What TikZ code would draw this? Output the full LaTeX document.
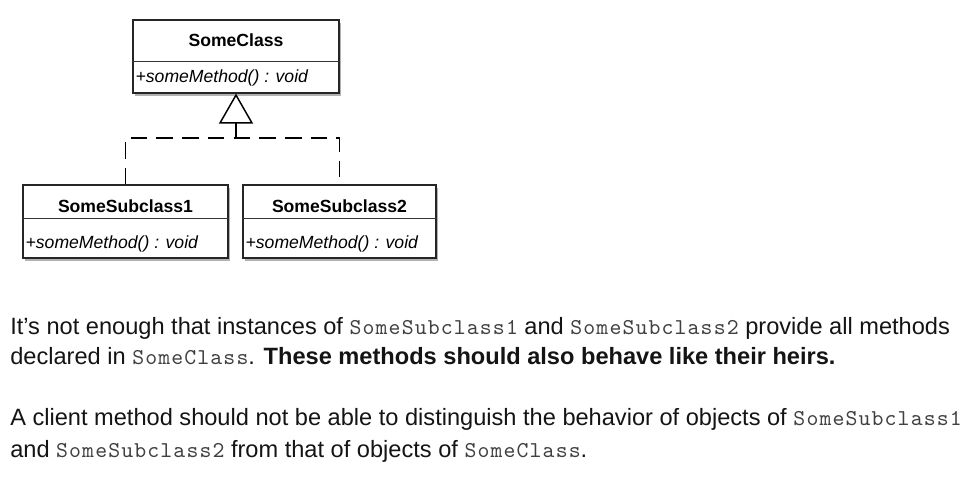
\documentclass[tikz,border=0pt]{standalone}
\usepackage{fontspec}
\setmainfont{Liberation Sans}
\newfontfamily\cdfont{lmmono10-regular}[Extension=.otf, LetterSpace=5]
\usetikzlibrary{shadows,arrows.meta,calc}
\definecolor{txt}{HTML}{141414}
\definecolor{mono}{HTML}{404040}
\newcommand{\cd}[1]{{\cdfont\fontsize{17pt}{19pt}\selectfont\color{mono}#1}}
\begin{document}
\begin{tikzpicture}[x=0.75pt,y=-0.75pt,
  umlbox/.style={draw=black!85, fill=white, line width=0.9pt, inner sep=0pt,
    drop shadow={shadow xshift=1.6pt, shadow yshift=-2.4pt, fill=black, opacity=0.3}},
  cname/.style={font=\fontsize{13.2pt}{15pt}\selectfont\bfseries, text=black, inner sep=0pt},
  meth/.style={font=\fontsize{13.2pt}{15pt}\selectfont\itshape, text=black, inner sep=0pt, anchor=west},
  divider/.style={draw=black!80, line width=0.6pt},
  para/.style={font=\fontsize{17.7pt}{20pt}\selectfont, text=txt, inner sep=0pt, anchor=base west},
  dashline/.style={line width=1.1pt, dash pattern=on 12.5pt off 6.8pt},
]
\useasboundingbox (0,0) rectangle (976,480);

% boxes
\node[umlbox, minimum width=154.5pt, minimum height=54.75pt] (c) at (236,56.5) {};
\node[umlbox, minimum width=153.75pt, minimum height=54.75pt] (s1) at (125.5,221.5) {};
\node[umlbox, minimum width=144.75pt, minimum height=54.75pt] (s2) at (339.5,221.5) {};

% dividers
\draw[divider] ($(c.north west)+(0,42)$) -- ($(c.north east)+(0,42)$);
\draw[divider] ($(s1.north west)+(0,34)$) -- ($(s1.north east)+(0,34)$);
\draw[divider] ($(s2.north west)+(0,34)$) -- ($(s2.north east)+(0,34)$);

% texts in boxes
\node[cname] (ct) at (236,40.5) {SomeClass};
\node[meth] (cm) at ($(c.north west)+(3,58.5)$) {+someMethod() : void};
\node[cname] (s1t) at (125.5,206.5) {SomeSubclass1};
\node[meth] (s1m) at ($(s1.north west)+(3,59.5)$) {+someMethod() : void};
\node[cname] (s2t) at (339.5,206.5) {SomeSubclass2};
\node[meth] (s2m) at ($(s2.north west)+(3,59.5)$) {+someMethod() : void};

% inheritance
\coordinate (j) at (236,138);
\draw[dashline] (s1.north) |- (j) -| (s2.north);
\draw[line width=1.1pt, -{Triangle[open, width=25.5pt, length=22.5pt, line width=1.1pt]}] (j) -- (c.south);

% paragraph
\node[para] (l1) at (10,334) {It’s not enough that instances of \cd{SomeSubclass1} and \cd{SomeSubclass2} provide all methods};
\node[para] (l2) at (10,364) {declared in \cd{SomeClass}. \textbf{These methods should also behave like their heirs.}};
\node[para] (l3) at (10,425) {A client method should not be able to distinguish the behavior of objects of \cd{SomeSubclass1}};
\node[para] (l4) at (10,457) {and \cd{SomeSubclass2} from that of objects of \cd{SomeClass}.};
\end{tikzpicture}
\end{document}
